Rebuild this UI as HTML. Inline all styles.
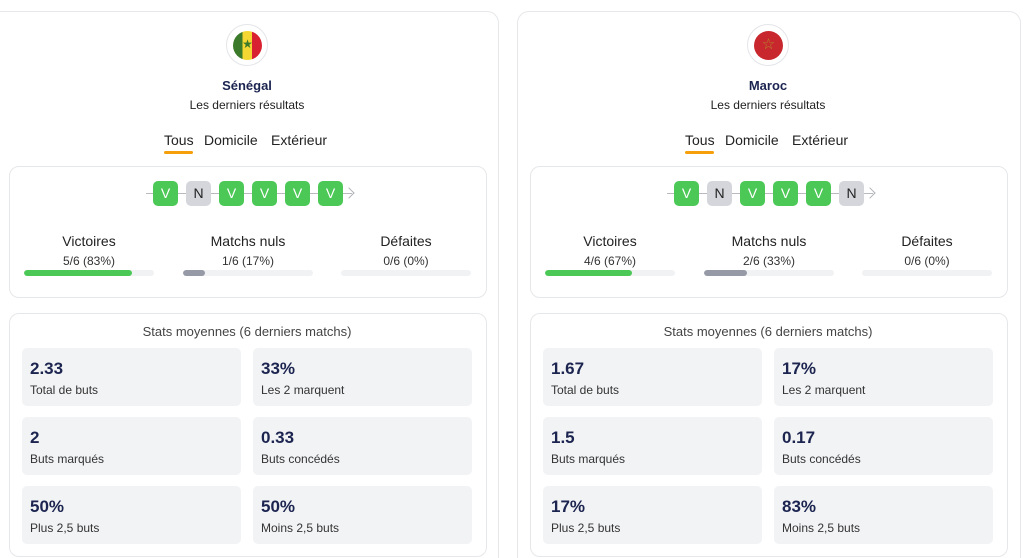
<!DOCTYPE html>
<html><head><meta charset="utf-8"><style>
*{box-sizing:border-box;margin:0;padding:0}
html{width:1024px;height:558px;overflow:hidden}
body{width:1024px;height:558px;background:#fff;font-family:"Liberation Sans",sans-serif;color:#1f2340;position:relative;overflow:hidden}
.col{position:absolute;top:0;width:520px;height:558px;overflow:visible}
.outer{position:absolute;left:-10px;top:11px;width:509px;height:560px;border:1px solid #e6e7ea;border-radius:12px}
.flag{position:absolute;left:226px;top:24px;width:42px;height:42px;border-radius:50%;border:1.5px solid #e4e5e9;background:#fff}
.flag .in{position:absolute;left:6px;top:6px;width:29px;height:29px;border-radius:50%;overflow:hidden}
.c{position:absolute;text-align:center;white-space:nowrap}
.name{left:0;width:494px;top:78px;font-size:13px;font-weight:bold;color:#1c2450}
.sub{left:0;width:494px;top:98px;font-size:12px;color:#222}
.tab{position:absolute;top:132px;font-size:14px;color:#222}
.ul{position:absolute;left:164px;top:151px;width:29px;height:2.5px;background:#f5a00a;border-radius:2px}
.card{position:absolute;left:9px;width:478px;border:1px solid #e6e7ea;border-radius:10px;background:#fff}
.line{position:absolute;left:146px;top:193px;width:206px;height:1px;background:#b8bac0}
.arr{position:absolute;left:345px;top:189px;width:8px;height:8px;border-top:1.3px solid #b0b2b8;border-right:1.3px solid #b0b2b8;transform:rotate(45deg)}
.pill{position:absolute;top:181px;width:25px;height:25px;border-radius:5px;background:#4cc857;color:#fff;font-size:14px;text-align:center;line-height:25px}
.pill.n{background:#d4d6db;color:#222}
.lbl{position:absolute;width:130px;text-align:center;top:233px;font-size:14px;color:#222}
.val{position:absolute;width:130px;text-align:center;top:254px;font-size:12px;color:#333}
.bar{position:absolute;top:270px;width:130px;height:6px;border-radius:3px;background:#f1f2f4;overflow:hidden}
.bar i{display:block;height:6px;border-radius:3px}
.st{left:0;width:494px;top:324px;font-size:13px;color:#444}
.tile{position:absolute;width:219px;height:58px;background:#f2f3f5;border-radius:5px}
.tile b{position:absolute;left:8px;top:11px;font-size:17px;color:#1c2450}
.tile span{position:absolute;left:8px;top:35px;font-size:12px;color:#333}
</style></head><body>

<div class="col" style="left:0">
<div class="outer"></div>
<div class="flag"><div class="in" style="background:linear-gradient(90deg,#3b7a2a 0 33%,#f4d732 33% 66%,#d92231 66%)"><div style="position:absolute;left:0;width:29px;top:6px;text-align:center;font-size:12px;color:#3b7a2a">★</div></div></div>
<div class="c name">Sénégal</div>
<div class="c sub">Les derniers résultats</div>
<div class="tab" style="left:164px">Tous</div><div class="tab" style="left:204px">Domicile</div><div class="tab" style="left:271px">Extérieur</div>
<div class="ul"></div>
<div class="card" style="top:166px;height:132px"></div>
<div class="line"></div><div class="arr"></div>
<div class="pill" style="left:153px">V</div><div class="pill n" style="left:186px">N</div><div class="pill" style="left:219px">V</div><div class="pill" style="left:252px">V</div><div class="pill" style="left:285px">V</div><div class="pill" style="left:318px">V</div>
<div class="lbl" style="left:24px">Victoires</div><div class="val" style="left:24px">5/6 (83%)</div><div class="bar" style="left:24px"><i style="width:83%;background:#4cc857"></i></div>
<div class="lbl" style="left:183px">Matchs nuls</div><div class="val" style="left:183px">1/6 (17%)</div><div class="bar" style="left:183px"><i style="width:17%;background:#959aa6"></i></div>
<div class="lbl" style="left:341px">Défaites</div><div class="val" style="left:341px">0/6 (0%)</div><div class="bar" style="left:341px"></div>
<div class="card" style="top:313px;height:244px"></div>
<div class="c st">Stats moyennes (6 derniers matchs)</div>
<div class="tile" style="left:22px;top:348px"><b>2.33</b><span>Total de buts</span></div>
<div class="tile" style="left:253px;top:348px"><b>33%</b><span>Les 2 marquent</span></div>
<div class="tile" style="left:22px;top:417px"><b>2</b><span>Buts marqués</span></div>
<div class="tile" style="left:253px;top:417px"><b>0.33</b><span>Buts concédés</span></div>
<div class="tile" style="left:22px;top:486px"><b>50%</b><span>Plus 2,5 buts</span></div>
<div class="tile" style="left:253px;top:486px"><b>50%</b><span>Moins 2,5 buts</span></div>
</div>

<div class="col" style="left:521px">
<div class="outer" style="left:-4px;width:504px"></div>
<div class="flag"><div class="in" style="background:#c8272e"><div style="position:absolute;left:0;width:29px;top:4px;text-align:center;font-size:15px;color:#b38b2a">☆</div></div></div>
<div class="c name">Maroc</div>
<div class="c sub">Les derniers résultats</div>
<div class="tab" style="left:164px">Tous</div><div class="tab" style="left:204px">Domicile</div><div class="tab" style="left:271px">Extérieur</div>
<div class="ul"></div>
<div class="card" style="top:166px;height:132px"></div>
<div class="line"></div><div class="arr"></div>
<div class="pill" style="left:153px">V</div><div class="pill n" style="left:186px">N</div><div class="pill" style="left:219px">V</div><div class="pill" style="left:252px">V</div><div class="pill" style="left:285px">V</div><div class="pill n" style="left:318px">N</div>
<div class="lbl" style="left:24px">Victoires</div><div class="val" style="left:24px">4/6 (67%)</div><div class="bar" style="left:24px"><i style="width:67%;background:#4cc857"></i></div>
<div class="lbl" style="left:183px">Matchs nuls</div><div class="val" style="left:183px">2/6 (33%)</div><div class="bar" style="left:183px"><i style="width:33%;background:#959aa6"></i></div>
<div class="lbl" style="left:341px">Défaites</div><div class="val" style="left:341px">0/6 (0%)</div><div class="bar" style="left:341px"></div>
<div class="card" style="top:313px;height:244px"></div>
<div class="c st">Stats moyennes (6 derniers matchs)</div>
<div class="tile" style="left:22px;top:348px"><b>1.67</b><span>Total de buts</span></div>
<div class="tile" style="left:253px;top:348px"><b>17%</b><span>Les 2 marquent</span></div>
<div class="tile" style="left:22px;top:417px"><b>1.5</b><span>Buts marqués</span></div>
<div class="tile" style="left:253px;top:417px"><b>0.17</b><span>Buts concédés</span></div>
<div class="tile" style="left:22px;top:486px"><b>17%</b><span>Plus 2,5 buts</span></div>
<div class="tile" style="left:253px;top:486px"><b>83%</b><span>Moins 2,5 buts</span></div>
</div>
</body></html>
